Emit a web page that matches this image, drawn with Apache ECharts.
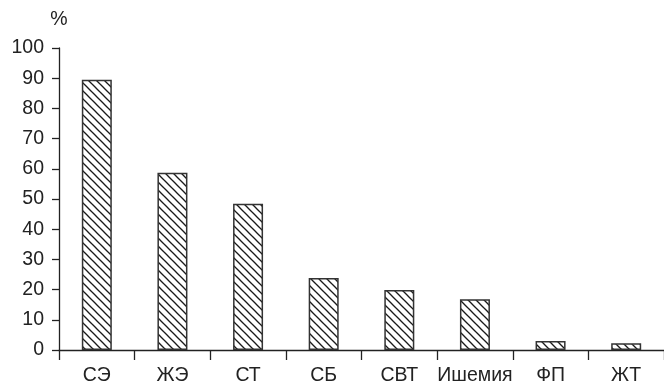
<!DOCTYPE html>
<html>
<head>
<meta charset="utf-8">
<script src="https://cdn.jsdelivr.net/npm/echarts@6/dist/echarts.min.js"></script>
<style>
html,body{margin:0;padding:0;background:#fff;}
#chart{width:664px;height:386px;}
</style>
</head>
<body>
<div id="chart"></div>
<script>
const categories = ['СЭ', 'ЖЭ', 'СТ', 'СБ', 'СВТ', 'Ишемия', 'ФП', 'ЖТ'];
const values = [89.5, 58.7, 48.4, 23.8, 19.9, 16.8, 3.0, 2.2];
const yTicks = [0, 10, 20, 30, 40, 50, 60, 70, 80, 90, 100];

function hatch() {
  const p = 8;
  const c = document.createElement('canvas');
  c.width = p; c.height = p;
  const g = c.getContext('2d');
  g.fillStyle = '#fff';
  g.fillRect(0, 0, p, p);
  g.strokeStyle = '#1a1a1a';
  g.lineWidth = 1.3;
  for (const x0 of [-p, 0, p]) {
    g.beginPath();
    g.moveTo(x0 - 1, -1);
    g.lineTo(x0 + p + 1, p + 1);
    g.stroke();
  }
  return c;
}

const font = 'Liberation Sans, Arial, Helvetica, sans-serif';
const chart = echarts.init(document.getElementById('chart'), null, {renderer: 'canvas'});
chart.setOption({
  animation: false,
  backgroundColor: '#fff',
  grid: {left: 59, right: -1, top: 48, bottom: 36, containLabel: false},
  xAxis: {
    type: 'category',
    data: categories,
    boundaryGap: true,
    axisLine: {lineStyle: {color: '#222', width: 1.3}},
    axisTick: {show: true, length: 10, lineStyle: {color: '#222', width: 1.3}},
    axisLabel: {color: '#222', fontSize: 19.5, fontFamily: font, margin: 16, interval: 0}
  },
  yAxis: {
    type: 'value',
    min: yTicks[0],
    max: yTicks[yTicks.length - 1],
    interval: 10,
    name: '%',
    nameLocation: 'end',
    nameGap: 18,
    nameTextStyle: {color: '#222', fontSize: 19.5, fontFamily: font, align: 'center'},
    axisLine: {show: true, lineStyle: {color: '#222', width: 1.3}},
    axisTick: {show: true, length: 7, lineStyle: {color: '#222', width: 1.3}},
    splitLine: {show: false},
    axisLabel: {color: '#222', fontSize: 19.5, fontFamily: font, margin: 15}
  },
  series: [{
    type: 'bar',
    data: values,
    barWidth: 30,
    itemStyle: {
      color: {image: hatch(), repeat: 'repeat'},
      borderColor: '#333',
      borderWidth: 1.5
    }
  }]
});
</script>
</body>
</html>
